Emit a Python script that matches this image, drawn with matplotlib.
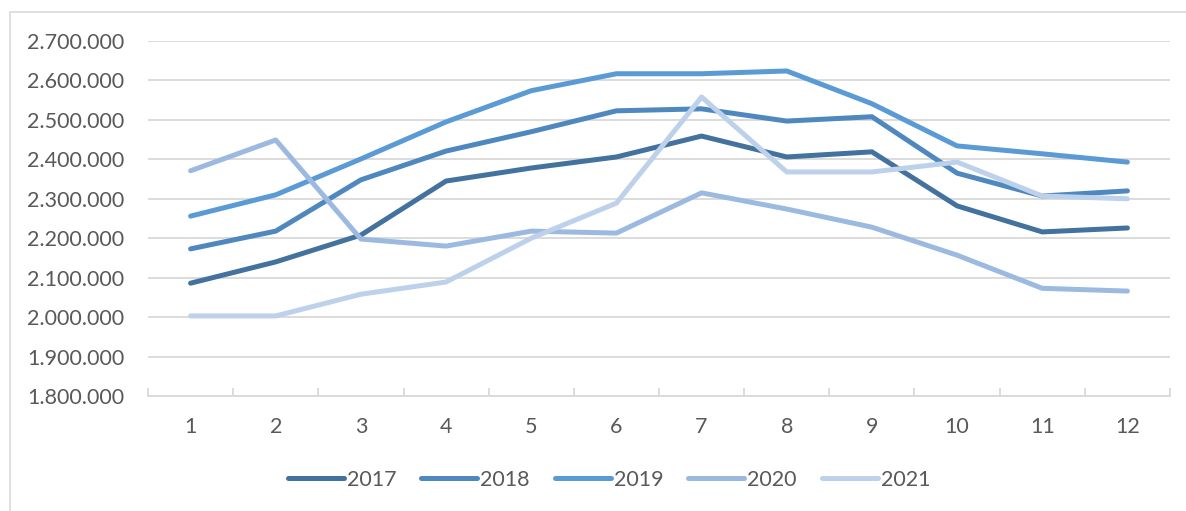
import matplotlib.pyplot as plt
import matplotlib.ticker as mticker
from matplotlib.patches import Rectangle

months = [1, 2, 3, 4, 5, 6, 7, 8, 9, 10, 11, 12]
years = ['2017', '2018', '2019', '2020', '2021']

y2017 = [2086000, 2140000, 2208000, 2345000, 2378000, 2406000, 2459000, 2406000, 2419000, 2282000, 2216000, 2226000]
y2018 = [2173000, 2218000, 2348000, 2421000, 2470000, 2523000, 2528000, 2497000, 2508000, 2365000, 2307000, 2320000]
y2019 = [2256000, 2310000, 2401000, 2495000, 2574000, 2617000, 2617000, 2624000, 2541000, 2434000, 2414000, 2393000]
y2020 = [2371000, 2449000, 2198000, 2180000, 2218000, 2213000, 2315000, 2274000, 2228000, 2157000, 2073000, 2066000]
y2021 = [2003000, 2003000, 2058000, 2089000, 2200000, 2289000, 2558000, 2368000, 2368000, 2393000, 2307000, 2300000]
series = [y2017, y2018, y2019, y2020, y2021]

colors = ['#43729E', '#4E88BE', '#5B9BD5', '#9CBAE0', '#BDD1EB']
text_color = '#595959'

plt.rcParams['font.family'] = ['Lato', 'DejaVu Sans']

fig = plt.figure(figsize=(11.86, 5.11), dpi=100)
ax = fig.add_axes([148 / 1186, 1 - 396 / 511, (1170 - 148) / 1186, (396 - 41) / 511])

# chart area border (cut off at right/bottom like the screenshot)
fig.patches.append(Rectangle((10 / 1186, -0.1), 1.2, 1 - 12 / 511 + 0.1, transform=fig.transFigure,
                             fill=False, edgecolor='#d9d9d9', linewidth=1.2))

for vals, col, lab in zip(series, colors, years):
    ax.plot(months, vals, color=col, linewidth=3.6, solid_capstyle='round', solid_joinstyle='round', label=lab)

ax.set_xlim(0.5, 12.5)
ax.set_ylim(1800000, 2700000)
ax.yaxis.set_major_locator(mticker.MultipleLocator(100000))
ax.yaxis.set_major_formatter(mticker.FuncFormatter(lambda v, p: f'{int(v):,}'.replace(',', '.')))
ax.set_xticks(months)
ax.xaxis.set_minor_locator(mticker.FixedLocator([m + 0.5 for m in range(0, 13)]))

ax.grid(axis='y', color='#d9d9d9', linewidth=1.3)
ax.set_axisbelow(True)
for s in ['top', 'right', 'left']:
    ax.spines[s].set_visible(False)
ax.spines['bottom'].set_color('#d9d9d9')
ax.spines['bottom'].set_linewidth(1.3)

ax.tick_params(axis='y', length=0, pad=17, labelsize=15.5, labelcolor=text_color)
ax.tick_params(axis='x', which='major', length=0, pad=15, labelsize=15.5, labelcolor=text_color)
ax.tick_params(axis='x', which='minor', direction='in', length=6, width=1.3, color='#d9d9d9')

fig.legend(loc='center', bbox_to_anchor=(609 / 1186, 1 - 480 / 511), ncol=5, frameon=False,
           fontsize=15.5, labelcolor=text_color, handlelength=2.6, handletextpad=0.15, columnspacing=1.15)

fig.savefig('out.png', dpi=100)
